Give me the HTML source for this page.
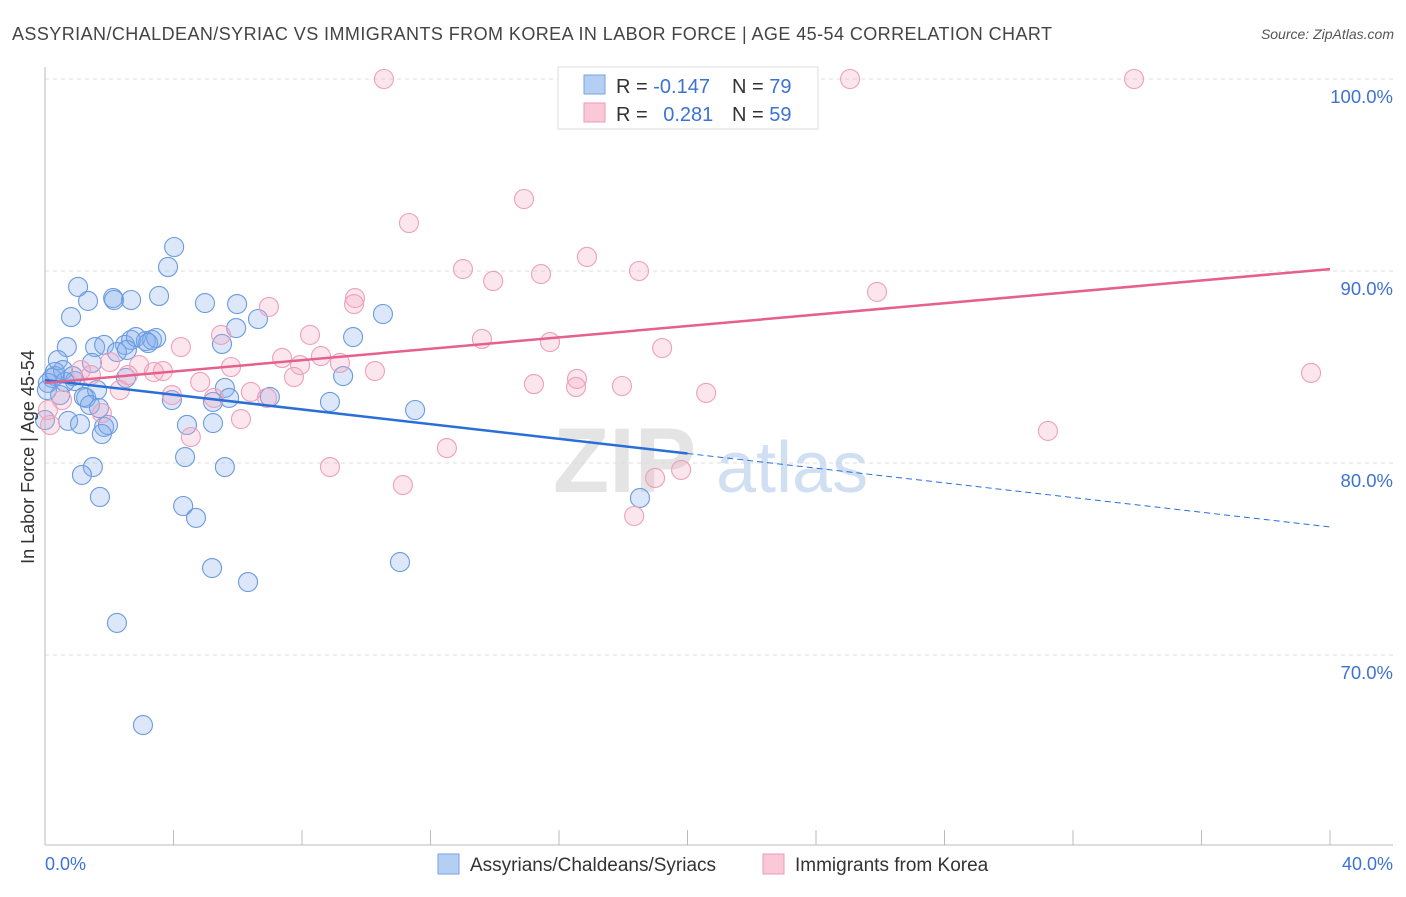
<!DOCTYPE html>
<html><head><meta charset="utf-8"><style>
body{margin:0;background:#fff;font-family:"Liberation Sans",sans-serif;}
svg text{font-family:"Liberation Sans",sans-serif;}
</style></head><body>
<svg id="chart" width="1406" height="892" viewBox="0 0 1406 892" xmlns="http://www.w3.org/2000/svg">
<text x="12" y="40" font-size="18" fill="#444" textLength="1040" lengthAdjust="spacing">ASSYRIAN/CHALDEAN/SYRIAC VS IMMIGRANTS FROM KOREA IN LABOR FORCE | AGE 45-54 CORRELATION CHART</text>
<text x="1394" y="39" font-size="14" fill="#555" font-style="italic" text-anchor="end">Source: ZipAtlas.com</text>
<g id="grid"></g>
<text x="553" y="492" font-size="92" font-family="Liberation Serif" font-weight="bold" fill="#ddd" fill-opacity="0.8">ZIP</text>
<text x="716" y="492" font-size="72" fill="#c5d7f0" fill-opacity="0.8">atlas</text>
<g id="pts"></g>
<g id="lines"></g>
<text transform="translate(34,457) rotate(-90)" font-size="18" fill="#333" text-anchor="middle">In Labor Force | Age 45-54</text>
<text x="45" y="870" font-size="18" fill="#3d72d6">0.0%</text>
<text x="1393" y="870" font-size="18" fill="#3d72d6" text-anchor="end">40.0%</text>
<g>
<rect x="558" y="67" width="260" height="62" fill="#fff" stroke="#ddd"/>
<rect x="584" y="75" width="21" height="19" fill="#b5cef3" stroke="#7aa3e0"/>
<rect x="584" y="103" width="21" height="19" fill="#fac9d8" stroke="#ee9ab5"/>
<text x="616" y="93" font-size="20" fill="#333">R = <tspan fill="#3d72d6">-0.147</tspan></text>
<text x="732" y="93" font-size="20" fill="#333">N = <tspan fill="#3d72d6">79</tspan></text>
<text x="616" y="121" font-size="20" fill="#333">R = <tspan fill="#3d72d6" dx="10">0.281</tspan></text>
<text x="732" y="121" font-size="20" fill="#333">N = <tspan fill="#3d72d6">59</tspan></text>
</g>
<g>
<rect x="438" y="854" width="21" height="20" fill="#b5cef3" stroke="#7aa3e0"/>
<text x="470" y="871" font-size="19" fill="#333">Assyrians/Chaldeans/Syriacs</text>
<rect x="763" y="854" width="21" height="20" fill="#fac9d8" stroke="#ee9ab5"/>
<text x="795" y="871" font-size="19" fill="#333">Immigrants from Korea</text>
</g>
</svg>
<script>
const yTicks=[100,90,80,70];
const yTickLabels=["100.0%","90.0%","80.0%","70.0%"];
const blueX=[1.03,0.81,1.34,2.12,2.15,2.68,3.55,3.83,4.02,4.98,5.98,6.63,5.95,5.51,9.59,10.52,0.68,0.40,0.31,1.56,1.84,2.49,2.68,2.83,3.14,3.33,3.46,3.21,2.24,2.55,1.46,0.56,0.22,0.93,1.28,1.62,1.21,1.40,1.68,0.72,1.09,1.84,1.96,1.77,2.52,3.95,5.60,5.23,5.73,7.00,9.28,8.87,11.52,4.42,5.23,4.36,5.60,1.49,1.15,1.71,4.30,4.70,5.20,6.32,11.05,18.52,2.24,3.05,0.09,0.47,0.0,0.62,0.31,0.87,0.06];
const blueY=[89.17,87.60,88.44,88.59,88.49,88.49,88.70,90.21,91.25,88.33,88.28,87.50,87.03,86.20,86.56,87.76,86.04,85.36,84.53,86.04,86.15,86.15,86.41,86.56,86.35,86.41,86.51,86.25,85.78,85.89,85.21,84.84,84.43,84.27,83.39,83.80,83.44,83.02,82.86,82.19,82.03,81.88,81.98,81.51,84.43,83.28,83.91,83.18,83.39,83.44,84.53,83.18,82.76,81.98,82.08,80.31,79.79,79.79,79.38,78.23,77.76,77.14,74.53,73.80,74.84,78.18,71.67,66.35,84.17,83.54,82.24,84.22,84.74,84.53,83.80];
const pinkX=[10.55,25.06,33.90,14.91,11.33,16.87,13.01,13.95,15.44,18.49,25.90,6.97,9.65,9.62,8.25,5.48,4.23,13.60,15.72,19.21,7.38,8.59,9.18,7.94,10.27,5.79,2.93,2.02,3.67,3.39,2.58,1.12,1.43,7.75,4.83,15.22,16.56,16.53,17.96,20.58,2.33,3.95,5.26,6.41,6.91,0.53,1.77,6.10,4.54,12.51,8.87,11.14,19.80,18.99,18.34,31.22,39.41,0.16,0.09];
const pinkY=[100,100,100,93.75,92.50,90.73,90.10,89.48,89.84,90.0,88.91,88.13,88.59,88.28,86.67,86.67,86.04,86.46,86.30,85.99,85.47,85.57,85.21,85.10,84.79,85.0,85.10,85.26,84.79,84.74,84.58,84.84,84.58,84.48,84.22,84.11,84.38,83.96,84.01,83.65,83.80,83.54,83.39,83.70,83.39,83.28,82.60,82.29,81.35,80.78,79.79,78.85,79.64,79.22,77.24,81.67,84.69,81.98,82.76];
const blueTrend=[84.32,76.67];
const pinkTrend=[84.17,90.1];
const blueSolidEnd=20;
const NS="http://www.w3.org/2000/svg";
const X=v=>45+v/40*1285, Y=v=>79+(100-v)*19.2;
function mk(tag,at,parent){const e=document.createElementNS(NS,tag);for(const k in at)e.setAttribute(k,at[k]);parent.appendChild(e);return e;}
const grid=document.getElementById('grid');
yTicks.forEach((t,i)=>{
 const l=mk('line',{x1:45,x2:1393,y1:Y(t),y2:Y(t),stroke:'#ddd','stroke-dasharray':'4,4'},grid);
 
 
 const tx=mk('text',{x:1393,y:Y(t)+24,'font-size':18.5,fill:'#3d72d6','text-anchor':'end'},grid);
 tx.textContent=yTickLabels[i];
 
 
});
const ax=mk('line',{x1:45,x2:45,y1:67,y2:845,stroke:'#bbb'},grid);


const bx=mk('line',{x1:45,x2:1393,y1:845,y2:845,stroke:'#bbb'},grid);


for(let i=0;i<=10;i++){
 const t=mk('line',{x1:X(i*4),x2:X(i*4),y1:830,y2:845,stroke:'#bbb'},grid);
 
 
}
const pts=document.getElementById('pts');
blueX.forEach((v,i)=>{
 const c=mk('circle',{cx:X(v),cy:Y(blueY[i]),r:9.5,fill:'rgba(130,172,238,0.28)',stroke:'#6a9ae0','stroke-width':1.1},pts);
 
 
});
pinkX.forEach((v,i)=>{
 const c=mk('circle',{cx:X(v),cy:Y(pinkY[i]),r:9.5,fill:'rgba(245,165,195,0.28)',stroke:'#ee9fb9','stroke-width':1.1},pts);
 
 
});
const lines=document.getElementById('lines');
const by=x=>blueTrend[0]+(blueTrend[1]-blueTrend[0])*x/40;
const l1=mk('line',{x1:X(0),y1:Y(by(0)),x2:X(blueSolidEnd),y2:Y(by(blueSolidEnd)),stroke:'#2a6fd6','stroke-width':2.5},lines);


const l2=mk('line',{x1:X(blueSolidEnd),y1:Y(by(blueSolidEnd)),x2:X(40),y2:Y(by(40)),stroke:'#2a6fd6','stroke-width':1,'stroke-dasharray':'6,4'},lines);


const l3=mk('line',{x1:X(0),y1:Y(pinkTrend[0]),x2:X(40),y2:Y(pinkTrend[1]),stroke:'#e5608c','stroke-width':2.5},lines);


</script>
</body></html>
